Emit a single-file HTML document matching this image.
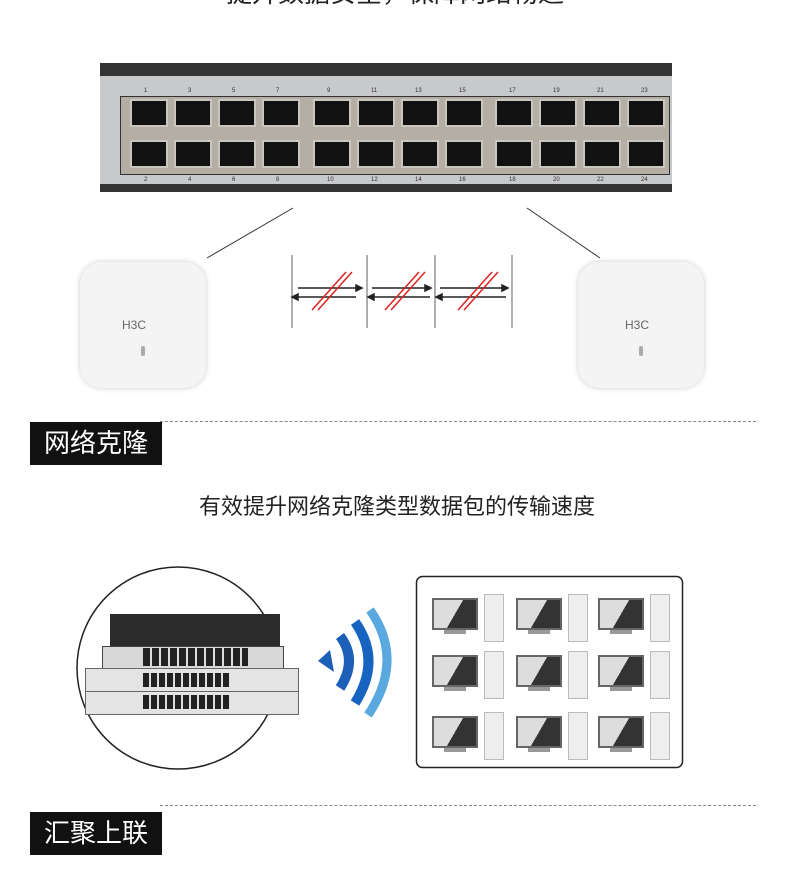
<!DOCTYPE html><html><head><meta charset="utf-8"><style>
body{margin:0;width:790px;height:871px;background:#fff;position:relative;overflow:hidden;font-family:"Liberation Sans","Noto Sans CJK SC",sans-serif}
.a{position:absolute}
.port{position:absolute;width:36px;height:28px;background:#111;border:2px solid #c9c6c0;box-sizing:border-box}
.lbl{position:absolute;background:#111;color:#fff;font-size:26px;line-height:43px;width:132px;text-align:center}
.dash{position:absolute;height:0;border-top:1.5px dashed #888}
</style></head><body>
<div class="a" style="left:0;top:-27px;width:790px;text-align:center;font-size:26px;color:#222">提升数据安全，保障网络畅通</div>
<div class="a" style="left:100px;top:63px;width:572px;height:129px;background:#333"></div>
<div class="a" style="left:100px;top:76px;width:572px;height:108px;background:#c8c9cb"></div>
<div class="a" style="left:120px;top:96px;width:548px;height:77px;background:#b5aea5;border:1px solid #333"></div>
<div id="ports"></div>
<svg class="a" style="left:0;top:0" width="790" height="871">
<line x1="293" y1="208" x2="207" y2="258" stroke="#333"/>
<line x1="527" y1="208" x2="600" y2="258" stroke="#333"/>
<g stroke="#777" stroke-width="1.2"><line x1="292" y1="255" x2="292" y2="328"/><line x1="367" y1="255" x2="367" y2="328"/><line x1="435" y1="255" x2="435" y2="328"/><line x1="512" y1="255" x2="512" y2="328"/></g>
<g stroke="#222" stroke-width="1.5" fill="#222">
<line x1="298" y1="288" x2="356" y2="288"/><polygon points="356,285 362,288 356,291"/><line x1="298" y1="297" x2="356" y2="297"/><polygon points="298,294 292,297 298,300"/>
<line x1="372" y1="288" x2="425" y2="288"/><polygon points="425,285 431,288 425,291"/><line x1="374" y1="297" x2="430" y2="297"/><polygon points="374,294 368,297 374,300"/>
<line x1="440" y1="288" x2="502" y2="288"/><polygon points="502,285 508,288 502,291"/><line x1="442" y1="297" x2="506" y2="297"/><polygon points="442,294 436,297 442,300"/>
</g>
<g stroke="#d22" stroke-width="1.5"><line x1="312" y1="310" x2="346" y2="272"/><line x1="318" y1="310" x2="352" y2="272"/><line x1="385" y1="310" x2="419" y2="272"/><line x1="391" y1="310" x2="425" y2="272"/><line x1="458" y1="310" x2="492" y2="272"/><line x1="464" y1="310" x2="498" y2="272"/></g>
<circle cx="178" cy="668" r="101" fill="none" stroke="#222" stroke-width="1.5"/>
<path d="M318,661 L330,650 L334,672 Z" fill="#1b5fb8"/>
<path d="M340,636 Q358,660 340,688" stroke="#1b5fb8" stroke-width="10" fill="none"/>
<path d="M355,622 Q382,660 355,703" stroke="#1763c0" stroke-width="10" fill="none"/>
<path d="M370,610 Q405,660 368,715" stroke="#5aa8e0" stroke-width="9" fill="none"/>
<rect x="416.5" y="576.5" width="266" height="191" rx="6" fill="none" stroke="#222" stroke-width="1.5"/>
</svg>
<div class="a" style="left:80px;top:262px;width:126px;height:126px;border-radius:22px;background:#f4f4f4;box-shadow:0 0 6px #ccc"><div class="a" style="left:42px;top:56px;font-size:12px;color:#666">H3C</div><div class="a" style="left:61px;top:84px;width:4px;height:10px;border-radius:2px;background:#aaa"></div></div>
<div class="a" style="left:578px;top:262px;width:126px;height:126px;border-radius:22px;background:#f4f4f4;box-shadow:0 0 6px #ccc"><div class="a" style="left:47px;top:56px;font-size:12px;color:#666">H3C</div><div class="a" style="left:61px;top:84px;width:4px;height:10px;border-radius:2px;background:#aaa"></div></div>
<div class="dash" style="left:160px;top:421px;width:596px"></div>
<div class="lbl" style="left:30px;top:422px">网络克隆</div>
<div class="a" style="left:0;top:489px;width:794px;text-align:center;font-size:22px;color:#222">有效提升网络克隆类型数据包的传输速度</div>
<div class="a" style="left:110px;top:614px;width:170px;height:32px;background:#2b2b2b"></div>
<div class="a" style="left:102px;top:646px;width:180px;height:26px;background:#d8d8d8;border:1px solid #444"></div>
<div class="a" style="left:85px;top:668px;width:212px;height:22px;background:#e4e4e4;border:1px solid #666"></div>
<div class="a" style="left:85px;top:691px;width:212px;height:22px;background:#e4e4e4;border:1px solid #666"></div>
<div class="a" style="left:143px;top:648px;width:105px;height:18px;background:repeating-linear-gradient(90deg,#222 0 7px,#ddd 7px 9px)"></div>
<div class="a" style="left:143px;top:673px;width:87px;height:14px;background:repeating-linear-gradient(90deg,#222 0 6px,#ddd 6px 8px)"></div>
<div class="a" style="left:143px;top:695px;width:87px;height:14px;background:repeating-linear-gradient(90deg,#222 0 6px,#ddd 6px 8px)"></div>
<div id="pcs"></div>
<div class="dash" style="left:160px;top:805px;width:596px"></div>
<div class="lbl" style="left:30px;top:812px">汇聚上联</div>
<script>
var p=document.getElementById('ports'),h='';
var xs=[130,174,218,262,313,357,401,445,495,539,583,627];
xs.forEach(function(x,i){h+='<div class="port" style="left:'+x+'px;top:99px;width:38px"></div><div class="port" style="left:'+x+'px;top:140px;width:38px"></div>';
h+='<div class="a" style="left:'+(x+14)+'px;top:88px;font-size:6px;color:#333">'+(2*i+1)+'</div><div class="a" style="left:'+(x+14)+'px;top:177px;font-size:6px;color:#333">'+(2*i+2)+'</div>';});
p.innerHTML=h;
var q=document.getElementById('pcs'),g='';
[432,516,598].forEach(function(x){[598,655,716].forEach(function(y){
g+='<div class="a" style="left:'+x+'px;top:'+y+'px;width:46px;height:32px;background:linear-gradient(120deg,#ddd 50%,#333 50%);border:2px solid #666;box-sizing:border-box"></div><div class="a" style="left:'+(x+12)+'px;top:'+(y+32)+'px;width:22px;height:4px;background:#999"></div><div class="a" style="left:'+(x+52)+'px;top:'+(y-4)+'px;width:18px;height:46px;background:#eee;border:1px solid #bbb"></div>';});});
q.innerHTML=g;
</script>
</body></html>
